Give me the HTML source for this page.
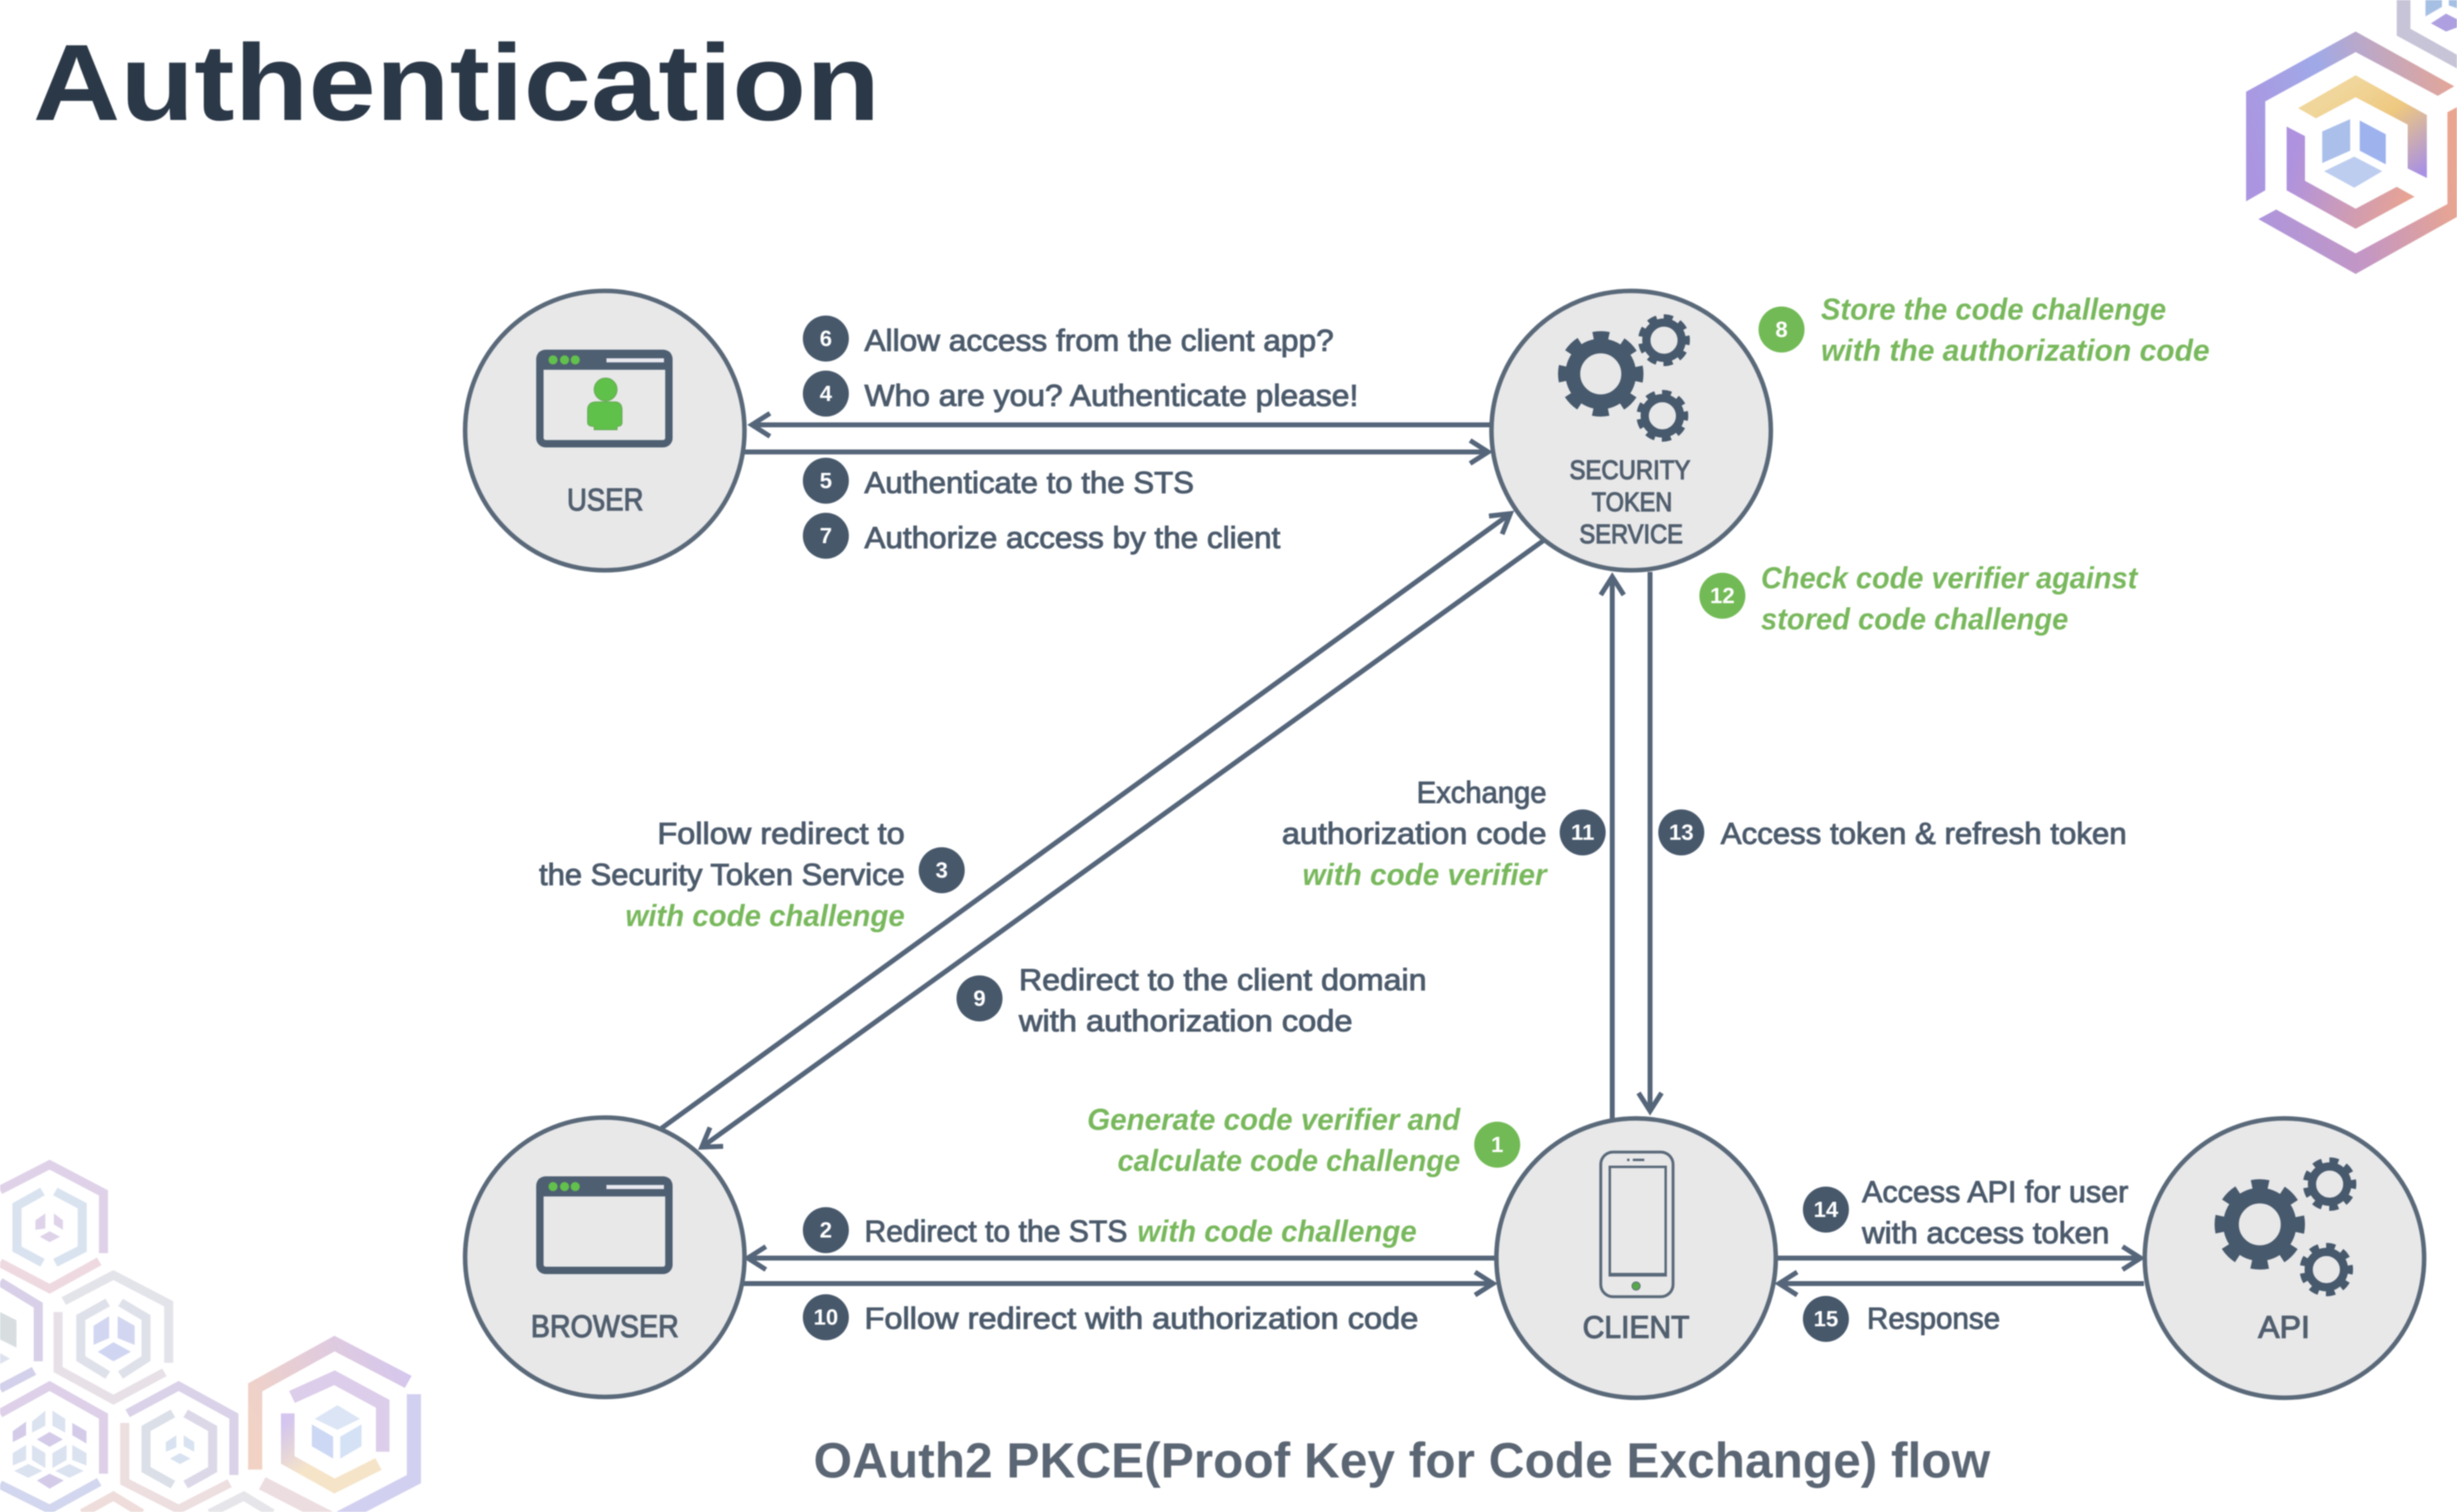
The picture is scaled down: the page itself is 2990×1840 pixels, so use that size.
<!DOCTYPE html>
<html><head><meta charset="utf-8"><style>
html,body{margin:0;padding:0;background:#fff;width:2990px;height:1840px;overflow:hidden}
svg{display:block;filter:blur(.8px)}
text{font-family:"Liberation Sans",sans-serif}
.t{font-size:37px;fill:#4b5a6b;stroke:#4b5a6b;stroke-width:1.100}
.g{font-size:37px;font-style:italic;font-weight:bold;fill:#78b85c}
.n{font-size:38px;fill:#505e6e;stroke:#505e6e;stroke-width:1.300}
.b{font-size:27px;font-weight:bold;fill:#fff;text-anchor:middle}
.bd{fill:#47586b}.bg{fill:#72ba55}
.c{fill:#e8e8e9;stroke:#5a6979;stroke-width:5.500}
.l{fill:none;stroke:#55657a;stroke-width:6}
.w{fill:none;stroke:#4e5f72;stroke-width:9}
.h{fill:none;stroke-width:32}
</style></head><body>
<svg width="2990" height="1840" viewBox="0 0 2990 1840" xmlns="http://www.w3.org/2000/svg">
<defs>
<linearGradient id="ga" gradientUnits="userSpaceOnUse" x1="400" y1="500" x2="1160" y2="300"><stop offset="0" stop-color="#ab95e0"/><stop offset=".4" stop-color="#9fa9e8"/><stop offset="1" stop-color="#e5a596"/></linearGradient>
<linearGradient id="gb" gradientUnits="userSpaceOnUse" x1="445" y1="800" x2="1170" y2="700"><stop offset="0" stop-color="#ad95dc"/><stop offset=".5" stop-color="#c396c4"/><stop offset="1" stop-color="#e9a590"/></linearGradient>
<linearGradient id="gc" gradientUnits="userSpaceOnUse" x1="800" y1="300" x2="1030" y2="640"><stop offset="0" stop-color="#f0d69a"/><stop offset=".4" stop-color="#eec880"/><stop offset="1" stop-color="#a890e4"/></linearGradient>
<linearGradient id="gd" gradientUnits="userSpaceOnUse" x1="560" y1="600" x2="1000" y2="720"><stop offset="0" stop-color="#ae92e0"/><stop offset="1" stop-color="#e8a392"/></linearGradient>
<linearGradient id="ge" gradientUnits="userSpaceOnUse" x1="895" y1="1100" x2="1440" y2="850"><stop offset="0" stop-color="#f2d2c4"/><stop offset="1" stop-color="#d4c6ee"/></linearGradient>
<linearGradient id="gf" gradientUnits="userSpaceOnUse" x1="1015" y1="1050" x2="1200" y2="1280"><stop offset="0" stop-color="#d4c6ee"/><stop offset=".6" stop-color="#f6e4c8"/></linearGradient>
</defs>

<!-- top right hexagon -->
<g transform="translate(2600,0) scale(.33333)">
<polygon points="950,0 1000,0 1000,105 1170,200 1170,250 950,130" fill="#c8c4d8"/>
<polygon points="1055,0 1115,0 1115,25 1055,60" fill="#a6c0e4"/>
<polygon points="1140,0 1170,0 1170,30 1140,20" fill="#a6c0e4"/>
<polygon points="1075,85 1130,50 1170,70 1170,100 1130,115" fill="#ad9fe0"/>
<polygon points="400,335 800,115 1160,315 1100,350 800,190 470,370 470,695 400,735" fill="url(#ga)"/>
<polygon points="445,800 510,765 800,925 1135,745 1135,410 1200,375 1200,775 800,1000" fill="url(#gb)"/>
<polygon points="590,395 800,275 1060,420 1060,650 990,615 990,455 800,355 655,432" fill="url(#gc)"/>
<polygon points="548,462 615,497 615,660 800,762 950,682 1015,718 800,835 548,695" fill="url(#gd)"/>
<polygon points="678,480 780,435 780,550 678,595" fill="#aabfea"/>
<polygon points="815,440 910,490 910,600 815,550" fill="#9eb2ee"/>
<polygon points="685,625 795,572 897,625 795,685" fill="#bccdf0"/>
</g>

<!-- bottom left hexagons -->
<g transform="translate(0,1380) scale(.345,.33333)">
<!-- H0 -->
<polyline class="h" points="0,540 135,625 135,830" stroke="#d8d0e8"/>
<polyline class="h" points="0,930 120,865" stroke="#d2d0ea"/>
<polygon points="0,650 58,680 58,780 0,750" fill="#d8dee0"/>
<polygon points="0,800 35,820 0,840" fill="#dde2ee"/>
<!-- H1 -->
<polyline class="h" points="0,205 175,112 365,215 365,435" stroke="#dfd2e8"/>
<polyline class="h" points="350,465 175,565 0,470" stroke="#eed9e0"/>
<polyline class="h" points="150,210 60,262 60,420 150,470" stroke="#d9e3ef"/>
<polyline class="h" points="195,210 290,262 290,420 195,470" stroke="#d9e3ef"/>
<polygon points="125,315 160,290 160,345 125,350" fill="#dfd3ea"/>
<polygon points="190,290 222,315 222,350 190,330" fill="#dfd3ea"/>
<polygon points="140,375 175,355 212,375 175,395" fill="#dfd3ea"/>
<!-- H2 -->
<polyline class="h" points="225,610 400,515 595,620 595,835" stroke="#e3e3ea"/>
<polyline class="h" points="205,650 205,860 400,970 580,870" stroke="#e7e0e6"/>
<polyline class="h" points="380,615 285,670 285,820 380,880" stroke="#dfe1ea"/>
<polyline class="h" points="425,615 515,670 515,820 425,880" stroke="#dfe1ea"/>
<polygon points="330,700 385,665 385,745 330,770" fill="#d2d6f0"/>
<polygon points="415,665 475,700 475,770 415,745" fill="#d2d6f0"/>
<polygon points="345,795 400,760 462,795 400,830" fill="#d0d6f2"/>
<!-- H3 -->
<polyline class="h" points="0,1020 175,920 365,1030 365,1240" stroke="#ddd0e8"/>
<polyline class="h" points="350,1270 175,1370 0,1280" stroke="#d2d6ee"/>
<g fill="#dbe2f0">
<polygon points="113,1050 160,1010 160,1065 113,1090"/><polygon points="185,1010 230,1040 230,1090 185,1065"/>
<polygon points="45,1165 92,1135 92,1190 45,1210"/><polygon points="113,1135 160,1165 160,1220 113,1190"/>
<polygon points="185,1165 235,1135 235,1190 185,1220"/><polygon points="255,1135 305,1165 305,1210 255,1190"/>
<polygon points="50,1230 100,1205 150,1230 100,1255"/><polygon points="195,1230 245,1205 295,1230 245,1255"/>
</g>
<g fill="#d4cbe9">
<polygon points="45,1085 92,1050 92,1100 45,1125"/><polygon points="255,1055 305,1085 305,1130 255,1100"/>
<polygon points="130,1115 175,1088 222,1115 175,1142"/><polygon points="130,1265 175,1240 225,1265 175,1295"/>
</g>
<!-- H4 -->
<polyline class="h" points="450,1020 630,920 825,1030 825,1245" stroke="#dad2e8"/>
<polyline class="h" points="440,1055 440,1270 630,1370 810,1275" stroke="#eddee0"/>
<polyline class="h" points="610,1020 515,1075 515,1225 610,1280" stroke="#dadfe8"/>
<polyline class="h" points="655,1020 750,1075 750,1225 655,1280" stroke="#dcd8e8"/>
<polygon points="585,1125 622,1100 622,1145 585,1160" fill="#d8e2f0"/>
<polygon points="648,1100 685,1125 685,1160 648,1140" fill="#d8e2f0"/>
<polygon points="600,1185 635,1165 672,1185 635,1205" fill="#d8e2f0"/>
<polyline class="h" points="290,1385 400,1322 500,1385" stroke="#eeddda"/>
<polyline class="h" points="740,1385 860,1322 960,1385" stroke="#e5e5ea"/>
<!-- H5 -->
<polyline fill="none" stroke-width="50" stroke="url(#ge)" points="900,1225 900,925 1180,765 1440,905"/>
<polyline fill="none" stroke-width="50" stroke="#d2d0f0" points="1460,950 1460,1260 1200,1400"/>
<polyline fill="none" stroke-width="50" stroke="#ecdde0" points="925,1275 1160,1400"/>
<polyline fill="none" stroke-width="48" stroke="#dccdea" points="1030,960 1180,890 1350,985 1350,1160"/>
<polyline fill="none" stroke-width="48" stroke="url(#gf)" points="1015,1020 1015,1190 1180,1285 1335,1205"/>
<polygon points="1110,1040 1190,990 1270,1040 1190,1080" fill="#dce5f5"/>
<polygon points="1100,1060 1175,1105 1175,1185 1100,1140" fill="#ccd8f4"/>
<polygon points="1200,1105 1275,1060 1275,1140 1200,1185" fill="#d5e2f5"/>
</g>

<!-- title -->
<text x="40" y="146" font-size="132" font-weight="bold" fill="#2b3848" textLength="1031" lengthAdjust="spacingAndGlyphs">Authentication</text>
<text x="990" y="1798" font-size="60" font-weight="bold" fill="#5b6674" textLength="1432" lengthAdjust="spacingAndGlyphs">OAuth2 PKCE(Proof Key for Code Exchange) flow</text>

<!-- connectors -->
<path class="l" d="M1815 517H914M937 503L915 517L937 531"/>
<path class="l" d="M905 550H1811M1789 536L1811 550L1789 564"/>
<path class="l" d="M805 1373L1838 625M1812 628L1838 625L1828 650"/>
<path class="l" d="M1878 658L854 1396M864 1372L854 1396L880 1395"/>
<path class="l" d="M1962 1363V702M1948 724L1962 702L1976 724"/>
<path class="l" d="M2008 696V1352M1994 1330L2008 1352L2022 1330"/>
<path class="l" d="M1821 1531H910M932 1517L910 1531L932 1545"/>
<path class="l" d="M905 1562H1817M1795 1548L1817 1562L1795 1576"/>
<path class="l" d="M2161 1531H2605M2583 1517L2605 1531L2583 1545"/>
<path class="l" d="M2609 1562H2165M2187 1548L2165 1562L2187 1576"/>

<!-- nodes -->
<circle class="c" cx="736" cy="524" r="170"/>
<circle class="c" cx="1985" cy="524" r="170"/>
<circle class="c" cx="736" cy="1530" r="170"/>
<circle class="c" cx="1991" cy="1531" r="170"/>
<circle class="c" cx="2780" cy="1531" r="170"/>

<!-- user window -->
<rect x="657" y="430" width="157" height="110" rx="7" class="w"/>
<rect x="654" y="427" width="163" height="23" rx="6" fill="#4e5f72"/>
<circle cx="673" cy="438" r="5.500" fill="#62c04c"/><circle cx="687" cy="438" r="5.500" fill="#62c04c"/><circle cx="700" cy="438" r="5.500" fill="#62c04c"/>
<rect x="738" y="436" width="70" height="5" fill="#e8e8ee"/>
<circle cx="737" cy="474" r="14" fill="#5fc04a" stroke="#6aa85a" stroke-width="1"/>
<path d="M726 489H748Q757 489 757 499V514Q757 519 751 519V523H723V519Q715 519 715 514V499Q715 489 726 489Z" fill="#5fc04a" stroke="#6aa85a" stroke-width="1"/>

<!-- browser window -->
<rect x="657" y="1436" width="157" height="110" rx="7" class="w"/>
<rect x="654" y="1433" width="163" height="23" rx="6" fill="#4e5f72"/>
<circle cx="673" cy="1444" r="5.500" fill="#62c04c"/><circle cx="687" cy="1444" r="5.500" fill="#62c04c"/><circle cx="700" cy="1444" r="5.500" fill="#62c04c"/>
<rect x="738" y="1442" width="70" height="5" fill="#e8e8ee"/>

<!-- phone -->
<rect x="1948" y="1402" width="88" height="176" rx="15" fill="none" stroke="#5a6979" stroke-width="3.500"/>
<rect x="1959" y="1420" width="68" height="132" fill="none" stroke="#5a6979" stroke-width="3"/>
<rect x="1959" y="1549" width="68" height="4" fill="#5a6979"/>
<circle cx="1991" cy="1565" r="5" fill="#56a84a" stroke="#5a6979" stroke-width="1"/>
<rect x="1987" y="1410" width="14" height="3" fill="#5a6979"/><rect x="1980" y="1410" width="3" height="3" fill="#5a6979"/>

<!-- gears STS -->
<g fill="none" stroke="#47596c">
<circle cx="1948" cy="455" r="34" stroke-width="18"/>
<circle cx="1948" cy="455" r="45" stroke-width="14" stroke-dasharray="18.500 16.843" stroke-dashoffset="9.250"/>
<circle cx="2025" cy="414" r="21.500" stroke-width="10"/>
<circle cx="2025" cy="414" r="28" stroke-width="7" stroke-dasharray="11 8.550" stroke-dashoffset="5.500"/>
<circle cx="2023" cy="506" r="21.500" stroke-width="10"/>
<circle cx="2023" cy="506" r="28" stroke-width="7" stroke-dasharray="11 8.550" stroke-dashoffset="5.500"/>
<!-- gears API -->
<circle cx="2750" cy="1490" r="35" stroke-width="19"/>
<circle cx="2750" cy="1490" r="48" stroke-width="14" stroke-dasharray="20 17.700" stroke-dashoffset="10"/>
<circle cx="2835" cy="1441" r="21.500" stroke-width="10"/>
<circle cx="2835" cy="1441" r="29" stroke-width="7" stroke-dasharray="11 9.240" stroke-dashoffset="5.500"/>
<circle cx="2831" cy="1545" r="21.500" stroke-width="10"/>
<circle cx="2831" cy="1545" r="29" stroke-width="7" stroke-dasharray="11 9.240" stroke-dashoffset="5.500"/>
</g>

<!-- node labels -->
<text class="n" x="690" y="621" textLength="93" lengthAdjust="spacingAndGlyphs">USER</text>
<text class="n" x="1910" y="583" style="font-size:32px" textLength="147" lengthAdjust="spacingAndGlyphs">SECURITY</text>
<text class="n" x="1937" y="622" style="font-size:32px" textLength="98" lengthAdjust="spacingAndGlyphs">TOKEN</text>
<text class="n" x="1922" y="661" style="font-size:32px" textLength="126" lengthAdjust="spacingAndGlyphs">SERVICE</text>
<text class="n" x="646" y="1627" textLength="180" lengthAdjust="spacingAndGlyphs">BROWSER</text>
<text class="n" x="1926" y="1628" textLength="130" lengthAdjust="spacingAndGlyphs">CLIENT</text>
<text class="n" x="2748" y="1628" textLength="63" lengthAdjust="spacingAndGlyphs">API</text>

<!-- badges -->
<circle class="bd" cx="1005" cy="412" r="28"/><text class="b" x="1005" y="421">6</text>
<circle class="bd" cx="1005" cy="479" r="28"/><text class="b" x="1005" y="488">4</text>
<circle class="bd" cx="1005" cy="585" r="28"/><text class="b" x="1005" y="594">5</text>
<circle class="bd" cx="1005" cy="652" r="28"/><text class="b" x="1005" y="661">7</text>
<circle class="bg" cx="2168" cy="401" r="28"/><text class="b" x="2168" y="410">8</text>
<circle class="bg" cx="2096" cy="725" r="28"/><text class="b" x="2096" y="734">12</text>
<circle class="bd" cx="1146" cy="1059" r="28"/><text class="b" x="1146" y="1068">3</text>
<circle class="bd" cx="1192" cy="1215" r="28"/><text class="b" x="1192" y="1224">9</text>
<circle class="bd" cx="1926" cy="1013" r="28"/><text class="b" x="1926" y="1022">11</text>
<circle class="bd" cx="2046" cy="1013" r="28"/><text class="b" x="2046" y="1022">13</text>
<circle class="bg" cx="1822" cy="1393" r="28"/><text class="b" x="1822" y="1402">1</text>
<circle class="bd" cx="1005" cy="1497" r="28"/><text class="b" x="1005" y="1506">2</text>
<circle class="bd" cx="1005" cy="1603" r="28"/><text class="b" x="1005" y="1612">10</text>
<circle class="bd" cx="2222" cy="1472" r="28"/><text class="b" x="2222" y="1481">14</text>
<circle class="bd" cx="2222" cy="1605" r="28"/><text class="b" x="2222" y="1614">15</text>

<!-- labels -->
<text class="t" x="1052" y="427" textLength="571" lengthAdjust="spacingAndGlyphs">Allow access from the client app?</text>
<text class="t" x="1052" y="494" textLength="601" lengthAdjust="spacingAndGlyphs">Who are you? Authenticate please!</text>
<text class="t" x="1052" y="600" textLength="401" lengthAdjust="spacingAndGlyphs">Authenticate to the STS</text>
<text class="t" x="1052" y="667" textLength="506" lengthAdjust="spacingAndGlyphs">Authorize access by the client</text>
<text class="g" x="2216" y="389" textLength="420" lengthAdjust="spacingAndGlyphs">Store the code challenge</text>
<text class="g" x="2216" y="439" textLength="473" lengthAdjust="spacingAndGlyphs">with the authorization code</text>
<text class="g" x="2143" y="716" textLength="458" lengthAdjust="spacingAndGlyphs">Check code verifier against</text>
<text class="g" x="2143" y="766" textLength="374" lengthAdjust="spacingAndGlyphs">stored code challenge</text>
<text class="t" x="800" y="1027" textLength="301" lengthAdjust="spacingAndGlyphs">Follow redirect to</text>
<text class="t" x="656" y="1077" textLength="445" lengthAdjust="spacingAndGlyphs">the Security Token Service</text>
<text class="g" x="761" y="1127" textLength="340" lengthAdjust="spacingAndGlyphs">with code challenge</text>
<text class="t" x="1240" y="1205" textLength="496" lengthAdjust="spacingAndGlyphs">Redirect to the client domain</text>
<text class="t" x="1240" y="1255" textLength="406" lengthAdjust="spacingAndGlyphs">with authorization code</text>
<text class="t" x="1724" y="977" textLength="158" lengthAdjust="spacingAndGlyphs">Exchange</text>
<text class="t" x="1560" y="1027" textLength="322" lengthAdjust="spacingAndGlyphs">authorization code</text>
<text class="g" x="1585" y="1077" textLength="297" lengthAdjust="spacingAndGlyphs">with code verifier</text>
<text class="t" x="2094" y="1027" textLength="494" lengthAdjust="spacingAndGlyphs">Access token &amp; refresh token</text>
<text class="g" x="1323" y="1375" textLength="454" lengthAdjust="spacingAndGlyphs">Generate code verifier and</text>
<text class="g" x="1360" y="1425" textLength="417" lengthAdjust="spacingAndGlyphs">calculate code challenge</text>
<text class="t" x="1052" y="1511" textLength="320" lengthAdjust="spacingAndGlyphs">Redirect to the STS</text>
<text class="g" x="1384" y="1511" textLength="340" lengthAdjust="spacingAndGlyphs">with code challenge</text>
<text class="t" x="1052" y="1617" textLength="674" lengthAdjust="spacingAndGlyphs">Follow redirect with authorization code</text>
<text class="t" x="2266" y="1463" textLength="324" lengthAdjust="spacingAndGlyphs">Access API for user</text>
<text class="t" x="2266" y="1513" textLength="301" lengthAdjust="spacingAndGlyphs">with access token</text>
<text class="t" x="2272" y="1617" textLength="162" lengthAdjust="spacingAndGlyphs">Response</text>
</svg>
</body></html>
